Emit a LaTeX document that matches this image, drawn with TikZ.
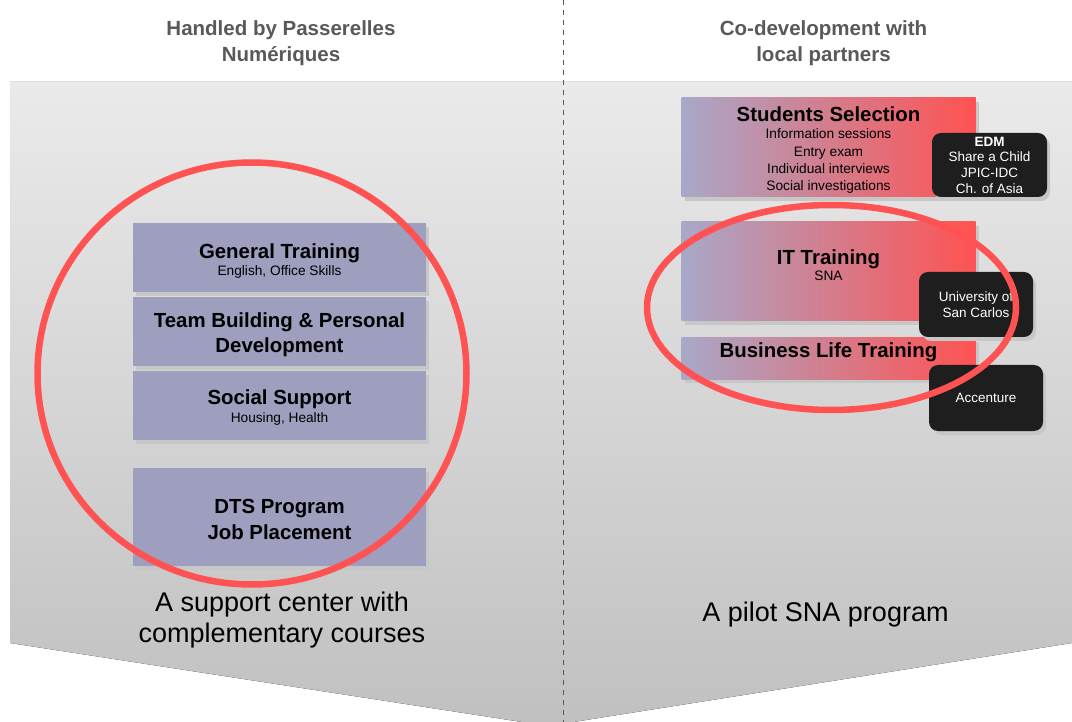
\documentclass[tikz,border=0pt]{standalone}
\usepackage{fontspec}
\setmainfont{Liberation Sans}
\usetikzlibrary{shadows}

\definecolor{peri}{HTML}{9E9EBF}
\definecolor{periL}{HTML}{A8A8C8}
\definecolor{hot}{HTML}{FF5252}
\definecolor{ink}{HTML}{1E1E1E}
\definecolor{head}{HTML}{595959}
\definecolor{bgtop}{HTML}{EAEAEA}
\definecolor{bgbot}{HTML}{C0C0C0}

\newcommand\fsz[2]{\fontsize{#1}{#2}\selectfont}
\newcommand\ttl[1]{{\fsz{20.4}{25}\bfseries #1}}

\tikzset{
	boxshadow/.style={drop shadow={shadow xshift=3pt,shadow yshift=-4pt,fill=black!22,opacity=1}},
	lbox/.style={boxshadow,fill=peri,minimum width=293pt,inner sep=0pt},
	rbox/.style={boxshadow,left color=periL,right color=hot,minimum width=294pt,inner sep=0pt},
	lbl/.style={anchor=north,align=center,inner sep=0pt,font=\fsz{13.7}{17.3}},
	big/.style={lbl,font=\fsz{20.4}{25.5}\bfseries},
	partner/.style={boxshadow,fill=ink,text=white,rounded corners=9pt,minimum width=114pt,inner sep=0pt,align=center,font=\fsz{13.5}{15.7}},
	header/.style={text=head,align=center,inner sep=0pt,font=\fsz{20.5}{26}\bfseries},
	ring/.style={draw=hot,line width=6.5pt}
}

\begin{document}
\begin{tikzpicture}[x=1pt,y=-1pt]
	\useasboundingbox (0,0) rectangle (1072,722);
	\coordinate (TL) at (10,82);
	\coordinate (TR) at (1072,82);
	\coordinate (BR) at (1072,643);
	\coordinate (V) at (548,726); % tip, just below the page
	\coordinate (BL) at (10,643);

	\fill[white] (0,0) rectangle (1072,722);
	\fill[top color=bgtop,bottom color=bgbot] (TL)--(TR)--(BR)--(V)--(BL)--cycle;
	\draw[head,line width=1pt,dash pattern=on 5pt off 5pt] (563,0)--(563,722);

	% headers
	\node[header] (hl) at (281,43) {Handled by Passerelles\\Numériques};
	\node[header] (hr) at (823.5,43) {Co-development with\\local partners};

	% left column
	\node[lbox,minimum height=69pt] (gen) at (279.5,257.5) {};
	\node[lbox,minimum height=69pt] (team) at (279.5,331.5) {};
	\node[lbox,minimum height=69pt] (soc) at (279.5,405.5) {};
	\node[lbox,minimum height=98pt] (dts) at (279.5,517) {};

	\node[lbl] (gen-t) at (279.5,243.5) {\ttl{General Training}\\English, Office Skills};
	\node[big] (team-t) at (279.5,312.5) {Team Building \& Personal\\Development};
	\node[lbl,font=\fsz{13.7}{18.5}] (soc-t) at (279.5,389.5) {\ttl{Social Support}\\Housing, Health};
	\node[big,font=\fsz{20.4}{26}\bfseries] (dts-t) at (279.5,499) {DTS Program\\Job Placement};

	% right column
	\node[rbox,minimum height=99pt] (sel) at (828.5,147.5) {};
	\node[rbox,minimum height=99pt] (it) at (828.5,271.5) {};
	\node[rbox,minimum height=41pt] (biz) at (828.5,358.5) {};

	\node[lbl] (sel-t) at (828.5,106.5)
		{\ttl{Students Selection}\\Information sessions\\Entry exam\\Individual interviews\\Social investigations};
	\node[lbl,font=\fsz{13.7}{16.5}] (it-t) at (828.5,249.5) {\ttl{IT Training}\\SNA};
	\node[big] (biz-t) at (828.5,342.5) {Business Life Training};

	% partners
	\node[partner,minimum height=64pt,minimum width=115pt] (edm) at (989.5,165)
		{\textbf{EDM}\\Share a Child\\JPIC-IDC\\Ch. of Asia};
	\node[partner,minimum height=65pt] (usc) at (976,304.5) {University of\\San Carlos};
	\node[partner,minimum height=66pt] (acc) at (986,398) {Accenture};

	% rings on top
	\coordinate (L) at (252,373.5);
	\coordinate (R) at (831.5,307.5);
	\draw[ring] (L) ellipse [x radius=214.5,y radius=211];
	\draw[ring] (R) ellipse [x radius=184.5,y radius=102.5];

	% captions
	\node[align=center,inner sep=0pt,font=\fsz{27}{31}] (capl) at (282,620)
		{A support center with\\complementary courses};
	\node[inner sep=0pt,font=\fsz{27}{31}] (capr) at (825.5,614.5) {A pilot SNA program};
\end{tikzpicture}
\end{document}
